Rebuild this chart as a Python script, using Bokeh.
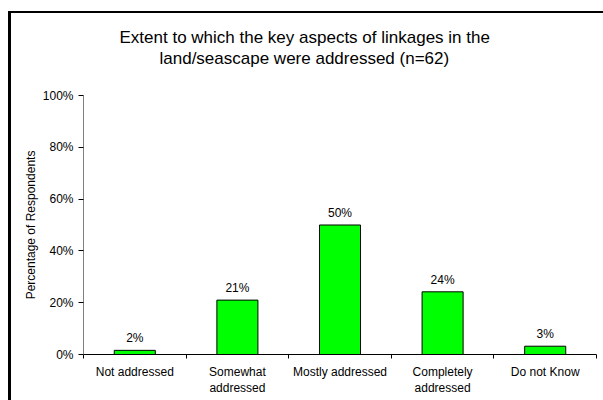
from bokeh.plotting import figure
from bokeh.layouts import row, column
from bokeh.models import (ColumnDataSource, FixedTicker, LabelSet, Range1d,
                          PrintfTickFormatter, Title, Spacer)
from bokeh.core.properties import value
from bokeh.embed import file_html
from bokeh.resources import INLINE

categories = ["Not addressed", "Somewhat\naddressed", "Mostly addressed",
              "Completely\naddressed", "Do not Know"]
percentages = [1.6, 21.0, 50.0, 24.2, 3.2]
y_ticks = [0, 20, 40, 60, 80, 100]
title_line1 = "Extent to which the key aspects of linkages in the"
title_line2 = "land/seascape were addressed (n=62)"
y_label = "Percentage of Respondents"

FONT = "Liberation Sans"

xs = [i + 0.5 for i in range(len(categories))]
bounds = list(range(len(categories) + 1))
labels = [f"{v:.0f}%" for v in percentages]
source = ColumnDataSource(dict(x=xs, top=percentages, label=labels))

W, H = 592, 387
p = figure(width=W, height=H,
           x_range=Range1d(0, len(categories)), y_range=Range1d(0, 100),
           output_backend="svg", toolbar_location=None,
           min_border_left=72, min_border_right=7,
           min_border_top=82, min_border_bottom=46)

# title: two centred lines (p.title is outermost; the added ones sit nearer the frame)
p.title.text = title_line1
p.title.align = "left"
p.title.offset = 36
p.title.text_font = FONT
p.title.text_font_size = "17px"
p.title.text_font_style = "normal"
p.title.text_color = "black"
p.title.standoff = 0
t2 = Title(text=title_line2, align="left", offset=76, text_font=FONT,
           text_font_size="17px", text_font_style="normal", text_color="black",
           standoff=0)
gap = Title(text=" ", text_font=FONT, text_font_size="17px", standoff=7)
p.add_layout(gap, "above")
p.add_layout(t2, "above")

p.vbar(x="x", top="top", width=0.4, source=source,
       fill_color="#00FF00", line_color="black", line_width=1)

p.add_layout(LabelSet(x="x", y="top", text="label", source=source,
                      text_align="center", text_baseline="bottom", y_offset=5,
                      text_font=value(FONT), text_font_size="12px",
                      text_color="black"))

p.xgrid.visible = False
p.ygrid.visible = False
p.outline_line_color = None

ya = p.yaxis[0]
ya.ticker = FixedTicker(ticks=y_ticks)
ya.formatter = PrintfTickFormatter(format="%d%%")
ya.axis_line_color = "#808080"
ya.major_tick_line_color = "black"
ya.major_tick_out = 5
ya.major_tick_in = 0
ya.minor_tick_line_color = None
ya.major_label_text_font = FONT
ya.major_label_text_font_size = "12px"
ya.major_label_text_color = "black"
ya.major_label_standoff = 5
ya.axis_label = y_label
ya.axis_label_text_font = FONT
ya.axis_label_text_font_size = "12px"
ya.axis_label_text_font_style = "normal"
ya.axis_label_text_color = "black"
ya.axis_label_standoff = 2

xa = p.xaxis[0]
xa.ticker = FixedTicker(ticks=xs, minor_ticks=bounds)
xa.major_label_overrides = {x: c for x, c in zip(xs, categories)}
xa.axis_line_color = "black"
xa.major_tick_line_color = None
xa.major_tick_out = 0
xa.major_tick_in = 0
xa.minor_tick_line_color = "black"
xa.minor_tick_out = 4
xa.minor_tick_in = 0
xa.major_label_text_font = FONT
xa.major_label_text_font_size = "12px"
xa.major_label_text_color = "black"
xa.major_label_standoff = 6

# outer chart frame: only its left and top edges fall inside the picture
left_bar = Spacer(width=3, height=H, styles={"background-color": "black"})
top_bar = Spacer(width=3 + W, height=2, styles={"background-color": "black"})
layout = row(Spacer(width=8, height=H + 13),
             column(Spacer(width=3 + W, height=11), top_bar, row(left_bar, p)))

open("out.html", "w").write(file_html(layout, INLINE))
